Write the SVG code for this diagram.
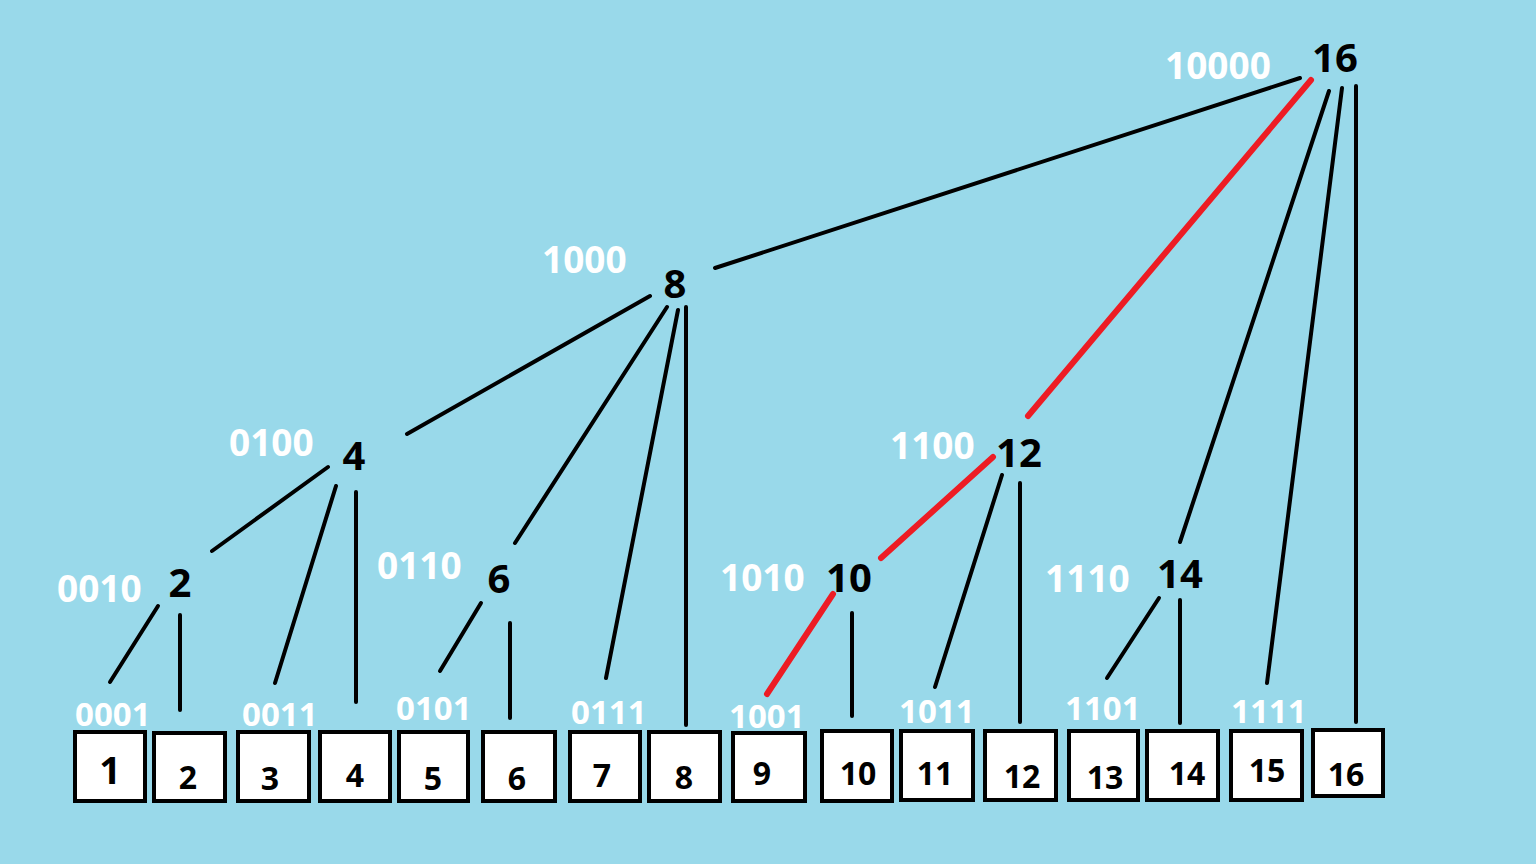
<svg xmlns="http://www.w3.org/2000/svg" width="1536" height="864" viewBox="0 0 1536 864">
<style>
.bk{stroke:#000;stroke-width:4;stroke-linecap:round;fill:none}
.rd{stroke:#ED1C24;stroke-width:6;stroke-linecap:round;fill:none}
.box{fill:#fff;stroke:#000;stroke-width:4}
.wl{font-family:"Noto Sans","Open Sans",sans-serif;font-weight:bold;fill:#fff;font-size:37px}
.bl{font-family:"Noto Sans","Open Sans",sans-serif;font-weight:bold;fill:#fff;font-size:33px}
.nl{font-family:"Noto Sans","Open Sans",sans-serif;font-weight:bold;fill:#000;font-size:40px;text-anchor:middle}
.bn{font-family:"Noto Sans","Open Sans",sans-serif;font-weight:bold;fill:#000;font-size:32px;text-anchor:middle}
</style>
<rect width="1536" height="864" fill="#99D9EA"/>
<g id="connectors">
<line class="bk" x1="1300" y1="78" x2="715" y2="268"/>
<line class="rd" x1="1311" y1="80" x2="1028" y2="416"/>
<line class="bk" x1="1329" y1="91" x2="1180" y2="542"/>
<line class="bk" x1="1342" y1="88" x2="1267" y2="683"/>
<line class="bk" x1="1356" y1="86" x2="1356" y2="722"/>
<line class="bk" x1="650" y1="296" x2="407" y2="434"/>
<line class="bk" x1="667" y1="307" x2="515" y2="543"/>
<line class="bk" x1="678" y1="310" x2="606" y2="678"/>
<line class="bk" x1="686" y1="307" x2="686" y2="725"/>
<line class="bk" x1="328" y1="467" x2="212" y2="551"/>
<line class="bk" x1="336" y1="486" x2="275" y2="683"/>
<line class="bk" x1="356" y1="492" x2="356" y2="702"/>
<line class="bk" x1="158" y1="606" x2="110" y2="682"/>
<line class="bk" x1="180" y1="615" x2="180" y2="710"/>
<line class="bk" x1="481" y1="603" x2="440" y2="671"/>
<line class="bk" x1="510" y1="623" x2="510" y2="718"/>
<line class="rd" x1="993" y1="457" x2="881" y2="558"/>
<line class="bk" x1="1002" y1="475" x2="935" y2="687"/>
<line class="bk" x1="1020" y1="483" x2="1020" y2="722"/>
<line class="rd" x1="833" y1="594" x2="767" y2="694"/>
<line class="bk" x1="852" y1="613" x2="852" y2="716"/>
<line class="bk" x1="1159" y1="598" x2="1107" y2="678"/>
<line class="bk" x1="1180" y1="600" x2="1180" y2="723"/>
</g>
<g id="n16"><text class="nl" x="1335" y="72">16</text><text class="wl" x="1165" y="79">10000</text></g>
<g id="n8"><text class="nl" x="675" y="298">8</text><text class="wl" x="542" y="273">1000</text></g>
<g id="n4"><text class="nl" x="354" y="470">4</text><text class="wl" x="229" y="456">0100</text></g>
<g id="n2"><text class="nl" x="180" y="597">2</text><text class="wl" x="57" y="602">0010</text></g>
<g id="n6"><text class="nl" x="499" y="593">6</text><text class="wl" x="377" y="579">0110</text></g>
<g id="n10"><text class="nl" x="849" y="592">10</text><text class="wl" x="720" y="591">1010</text></g>
<g id="n12"><text class="nl" x="1019" y="467">12</text><text class="wl" x="890" y="459">1100</text></g>
<g id="n14"><text class="nl" x="1180" y="588">14</text><text class="wl" x="1045" y="592">1110</text></g>
<g id="b1"><rect class="box" x="75" y="732" width="70" height="69"/><text class="bn" x="110" y="784" style="font-size:38px">1</text><text class="bl" x="75" y="726">0001</text></g>
<g id="b2"><rect class="box" x="154" y="733" width="71" height="68"/><text class="bn" x="188" y="789">2</text></g>
<g id="b3"><rect class="box" x="238" y="732" width="71" height="69"/><text class="bn" x="270" y="790">3</text><text class="bl" x="242" y="726">0011</text></g>
<g id="b4"><rect class="box" x="320" y="732" width="70" height="69"/><text class="bn" x="355" y="787">4</text></g>
<g id="b5"><rect class="box" x="399" y="732" width="69" height="69"/><text class="bn" x="433" y="790">5</text><text class="bl" x="396" y="720">0101</text></g>
<g id="b6"><rect class="box" x="483" y="732" width="72" height="69"/><text class="bn" x="517" y="790">6</text></g>
<g id="b7"><rect class="box" x="570" y="732" width="70" height="69"/><text class="bn" x="602" y="787">7</text><text class="bl" x="571" y="724">0111</text></g>
<g id="b8"><rect class="box" x="649" y="732" width="71" height="69"/><text class="bn" x="684" y="789">8</text></g>
<g id="b9"><rect class="box" x="733" y="733" width="72" height="68"/><text class="bn" x="762" y="785">9</text><text class="bl" x="729" y="728">1001</text></g>
<g id="b10"><rect class="box" x="822" y="731" width="70" height="70"/><text class="bn" x="858" y="785">10</text></g>
<g id="b11"><rect class="box" x="901" y="731" width="72" height="69"/><text class="bn" x="935" y="785">11</text><text class="bl" x="899" y="723">1011</text></g>
<g id="b12"><rect class="box" x="985" y="731" width="71" height="69"/><text class="bn" x="1022" y="788">12</text></g>
<g id="b13"><rect class="box" x="1069" y="731" width="69" height="69"/><text class="bn" x="1105" y="789">13</text><text class="bl" x="1065" y="720">1101</text></g>
<g id="b14"><rect class="box" x="1147" y="731" width="71" height="69"/><text class="bn" x="1187" y="785">14</text></g>
<g id="b15"><rect class="box" x="1231" y="731" width="71" height="69"/><text class="bn" x="1267" y="782">15</text><text class="bl" x="1231" y="723">1111</text></g>
<g id="b16"><rect class="box" x="1313" y="730" width="70" height="66"/><text class="bn" x="1346" y="786">16</text></g>
</svg>
